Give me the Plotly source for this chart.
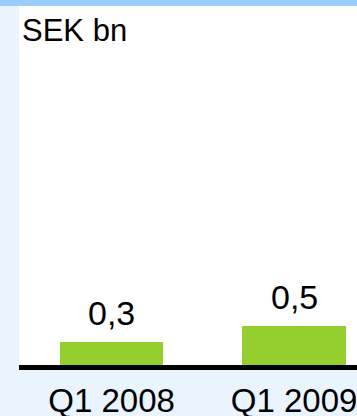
import plotly.graph_objects as go

categories = ['Q1 2008', 'Q1 2009']
values = [0.3, 0.5]
value_labels = ['0,3', '0,5']
unit_label = 'SEK bn'

FONT = 'Arial, Liberation Sans, sans-serif'

fig = go.Figure(
    go.Bar(
        x=categories,
        y=values,
        width=0.565,
        marker=dict(color='#94CF2E', line=dict(width=0)),
        hoverinfo='skip',
    )
)

# value labels above the bars
for cat, val, lab in zip(categories, values, value_labels):
    fig.add_annotation(
        x=cat, y=val, text=lab, showarrow=False,
        yanchor='bottom', yshift=8,
        font=dict(family=FONT, size=34, color='#000000'),
    )

fig.add_annotation(
    text=unit_label, xref='paper', yref='paper', x=0, y=1,
    xanchor='left', yanchor='top', xshift=1, yshift=-5,
    showarrow=False, font=dict(family=FONT, size=31, color='#000000'),
)

# light blue band along the top edge
fig.add_shape(
    type='rect', xref='paper', yref='paper',
    x0=-0.1, x1=1.1, y0=1.0, y1=1.02, fillcolor='#99CCFF', line=dict(width=0), layer='above',
)

fig.update_layout(
    width=357, height=416,
    margin=dict(l=19, r=0, t=6, b=51),
    paper_bgcolor='#EAF4FF',
    plot_bgcolor='#FFFFFF',
    showlegend=False,
    bargap=0,
    xaxis=dict(
        range=[-0.507, 1.345], showgrid=False, zeroline=False,
        showline=True, linecolor='#000000', linewidth=5,
        ticks='', ticklabelstandoff=2, automargin=False,
        tickfont=dict(family=FONT, size=33, color='#000000'),
    ),
    yaxis=dict(range=[0, 4.6], visible=False, showgrid=False, zeroline=False),
)

fig.write_html(
    'out.html',
    config={'displayModeBar': False},
    post_script="document.body.style.margin='0';document.body.style.overflow='hidden';",
)
